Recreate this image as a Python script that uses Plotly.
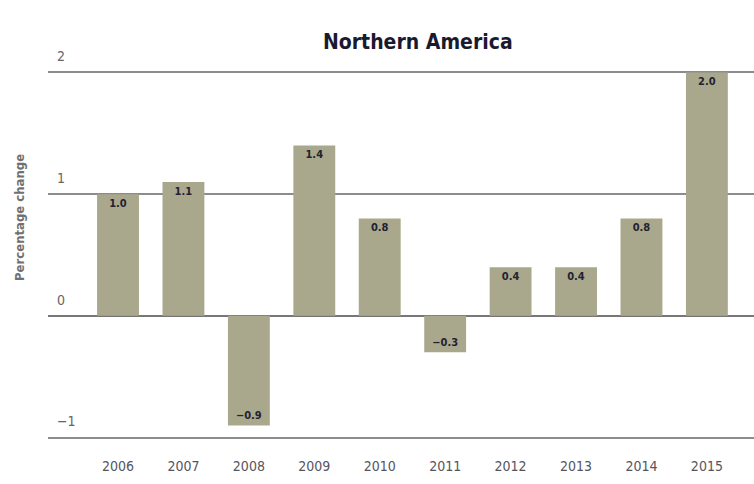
import plotly.graph_objects as go

years = ["2006", "2007", "2008", "2009", "2010", "2011", "2012", "2013", "2014", "2015"]
values = [1.0, 1.1, -0.9, 1.4, 0.8, -0.3, 0.4, 0.4, 0.8, 2.0]
labels = [("−" if v < 0 else "") + f"{abs(v):.1f}" for v in values]

FONT = "DejaVu Sans Condensed, Liberation Sans Narrow, Liberation Sans, sans-serif"

W, H = 754, 484
L, R, T, B = 48, 0, 70, 44

fig = go.Figure(go.Bar(
    x=years, y=values, text=[f"<b>{t}</b>" for t in labels],
    textposition="inside", insidetextanchor="end",
    textfont=dict(family=FONT, size=11, color="#222233"),
    marker=dict(color="#a9a88c", line=dict(width=0)),
    cliponaxis=False,
))

def px_x(px):
    return (px - L) / (W - L - R)

def px_y(py):
    return (H - B - py) / (H - T - B)

fig.update_layout(
    width=W, height=H,
    margin=dict(l=L, r=R, t=T, b=B, autoexpand=False),
    plot_bgcolor="white", paper_bgcolor="white",
    bargap=0.36,
    showlegend=False,
    uniformtext=dict(minsize=8, mode="show"),
    annotations=[
        dict(text="<b>Northern America</b>", x=px_x(418), y=px_y(42),
             xref="paper", yref="paper", xanchor="center", yanchor="middle",
             showarrow=False, font=dict(family=FONT, size=21, color="#1a1a2e")),
        dict(text="<b>Percentage change</b>", x=px_x(19), y=px_y(218),
             xref="paper", yref="paper", xanchor="center", yanchor="middle",
             textangle=-90, showarrow=False,
             font=dict(family=FONT, size=13, color="#707070")),
    ],
)

fig.update_xaxes(
    type="category", range=[-1.07, 9.72], automargin=False,
    showgrid=False, showline=False, ticks="",
    ticklabelstandoff=16,
    tickfont=dict(family=FONT, size=14, color="#555560"),
)
fig.update_yaxes(
    range=[-1.02, 2.02], dtick=1, tick0=0, automargin=False,
    showgrid=True, gridcolor="#8c8c8c", gridwidth=2,
    zeroline=True, zerolinecolor="#777777", zerolinewidth=2,
    showline=False, ticks="",
    ticklabelposition="inside", ticklabelstandoff=6, ticklabelshift=-16,
    ticklabeloverflow="allow",
    tickfont=dict(family=FONT, size=14, color="#666666"),
)

fig.write_html("out.html", post_script="document.body.style.margin='0';",
               config={"displayModeBar": False})
